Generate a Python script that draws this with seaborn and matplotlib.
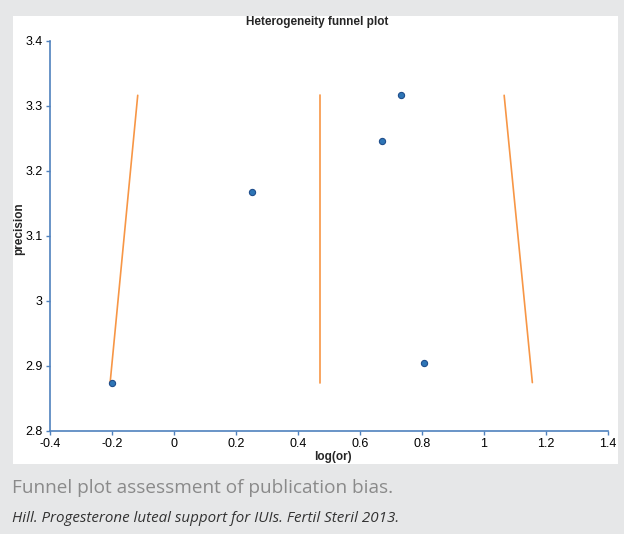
import matplotlib
matplotlib.use("Agg")
import matplotlib.pyplot as plt
import seaborn as sns
import pandas as pd
from matplotlib.patches import Rectangle

# --- Datos ---
log_or = [-0.20, 0.253, 0.672, 0.733, 0.805]
precision = [2.874, 3.168, 3.246, 3.316, 2.904]

# Líneas del embudo (inferior -> superior)
linea_izq_x = [-0.206, -0.117]
linea_centro_x = [0.471, 0.471]
linea_der_x = [1.156, 1.065]
linea_y = [2.874, 3.316]

x_ticks = [-0.4, -0.2, 0, 0.2, 0.4, 0.6, 0.8, 1, 1.2, 1.4]
y_ticks = [2.8, 2.9, 3, 3.1, 3.2, 3.3, 3.4]

puntos = pd.DataFrame({'log_or': log_or, 'precision': precision})
lineas = pd.DataFrame({
    'x': linea_izq_x + linea_centro_x + linea_der_x,
    'y': linea_y * 3,
    'linea': ['izq'] * 2 + ['centro'] * 2 + ['der'] * 2,
})

sns.set_style("white")
plt.rcParams['font.family'] = ['Liberation Sans', 'DejaVu Sans']

azul_eje = '#4f81bd'
fig = plt.figure(figsize=(6.24, 5.34), dpi=100)
fig.patch.set_facecolor('#e6e7e8')
fig.patches.append(Rectangle((13 / 624, 1 - 464 / 534), 605 / 624, 448 / 534,
                             transform=fig.transFigure, facecolor='white',
                             edgecolor='none', zorder=-5))

ax = fig.add_axes([50 / 624, 1 - 430.7 / 534, 558 / 624, 390 / 534])
ax.set_zorder(2)
ax.set_facecolor('none')

sns.lineplot(data=lineas, x='x', y='y', units='linea', estimator=None, sort=False,
             color='#f79646', linewidth=1.2, ax=ax)
sns.scatterplot(data=puntos, x='log_or', y='precision', color='#2e75b6',
                edgecolor='#1f4e8c', linewidth=0.8, s=20, zorder=3, ax=ax)

ax.set_xlim(-0.4, 1.4)
ax.set_ylim(2.8, 3.4)
ax.set_xticks(x_ticks)
ax.set_xticklabels(['%g' % v for v in x_ticks])
ax.set_yticks(y_ticks)
ax.set_yticklabels(['%g' % v for v in y_ticks])

for lado in ['top', 'right']:
    ax.spines[lado].set_visible(False)
for lado in ['left', 'bottom']:
    ax.spines[lado].set_color(azul_eje)
    ax.spines[lado].set_linewidth(1.2)
ax.tick_params(axis='both', direction='out', length=3, width=1, color=azul_eje,
               labelsize=9, pad=2.5, labelcolor='black')
ax.tick_params(axis='x', bottom=True)
ax.tick_params(axis='y', left=True)

ax.set_xlabel('log(or)', fontsize=8.5, fontweight='bold')
ax.set_ylabel('precision', fontsize=8.5, fontweight='bold')
ax.xaxis.set_label_coords(0.507, -0.067)
ax.yaxis.set_label_coords(-0.056, 0.517)
ax.xaxis.label.set_va('center')
ax.yaxis.label.set_va('center')
fig.text(317 / 624, 1 - 22 / 534, 'Heterogeneity funnel plot', fontsize=8.5,
         fontweight='bold', ha='center', va='center')

# --- Pie de figura ---
fig.text(12 / 624, 1 - 488 / 534, 'Funnel plot assessment of publication bias.',
         fontsize=13.7, color='#8a8a8a', family=['Open Sans', 'DejaVu Sans'],
         ha='left', va='center')
fig.text(12 / 624, 1 - 518 / 534,
         'Hill. Progesterone luteal support for IUIs. Fertil Steril 2013.',
         fontsize=10.9, style='italic', color='#333333',
         family=['Open Sans', 'DejaVu Sans'], ha='left', va='center')

plt.savefig('out.png', dpi=100, facecolor=fig.get_facecolor())
